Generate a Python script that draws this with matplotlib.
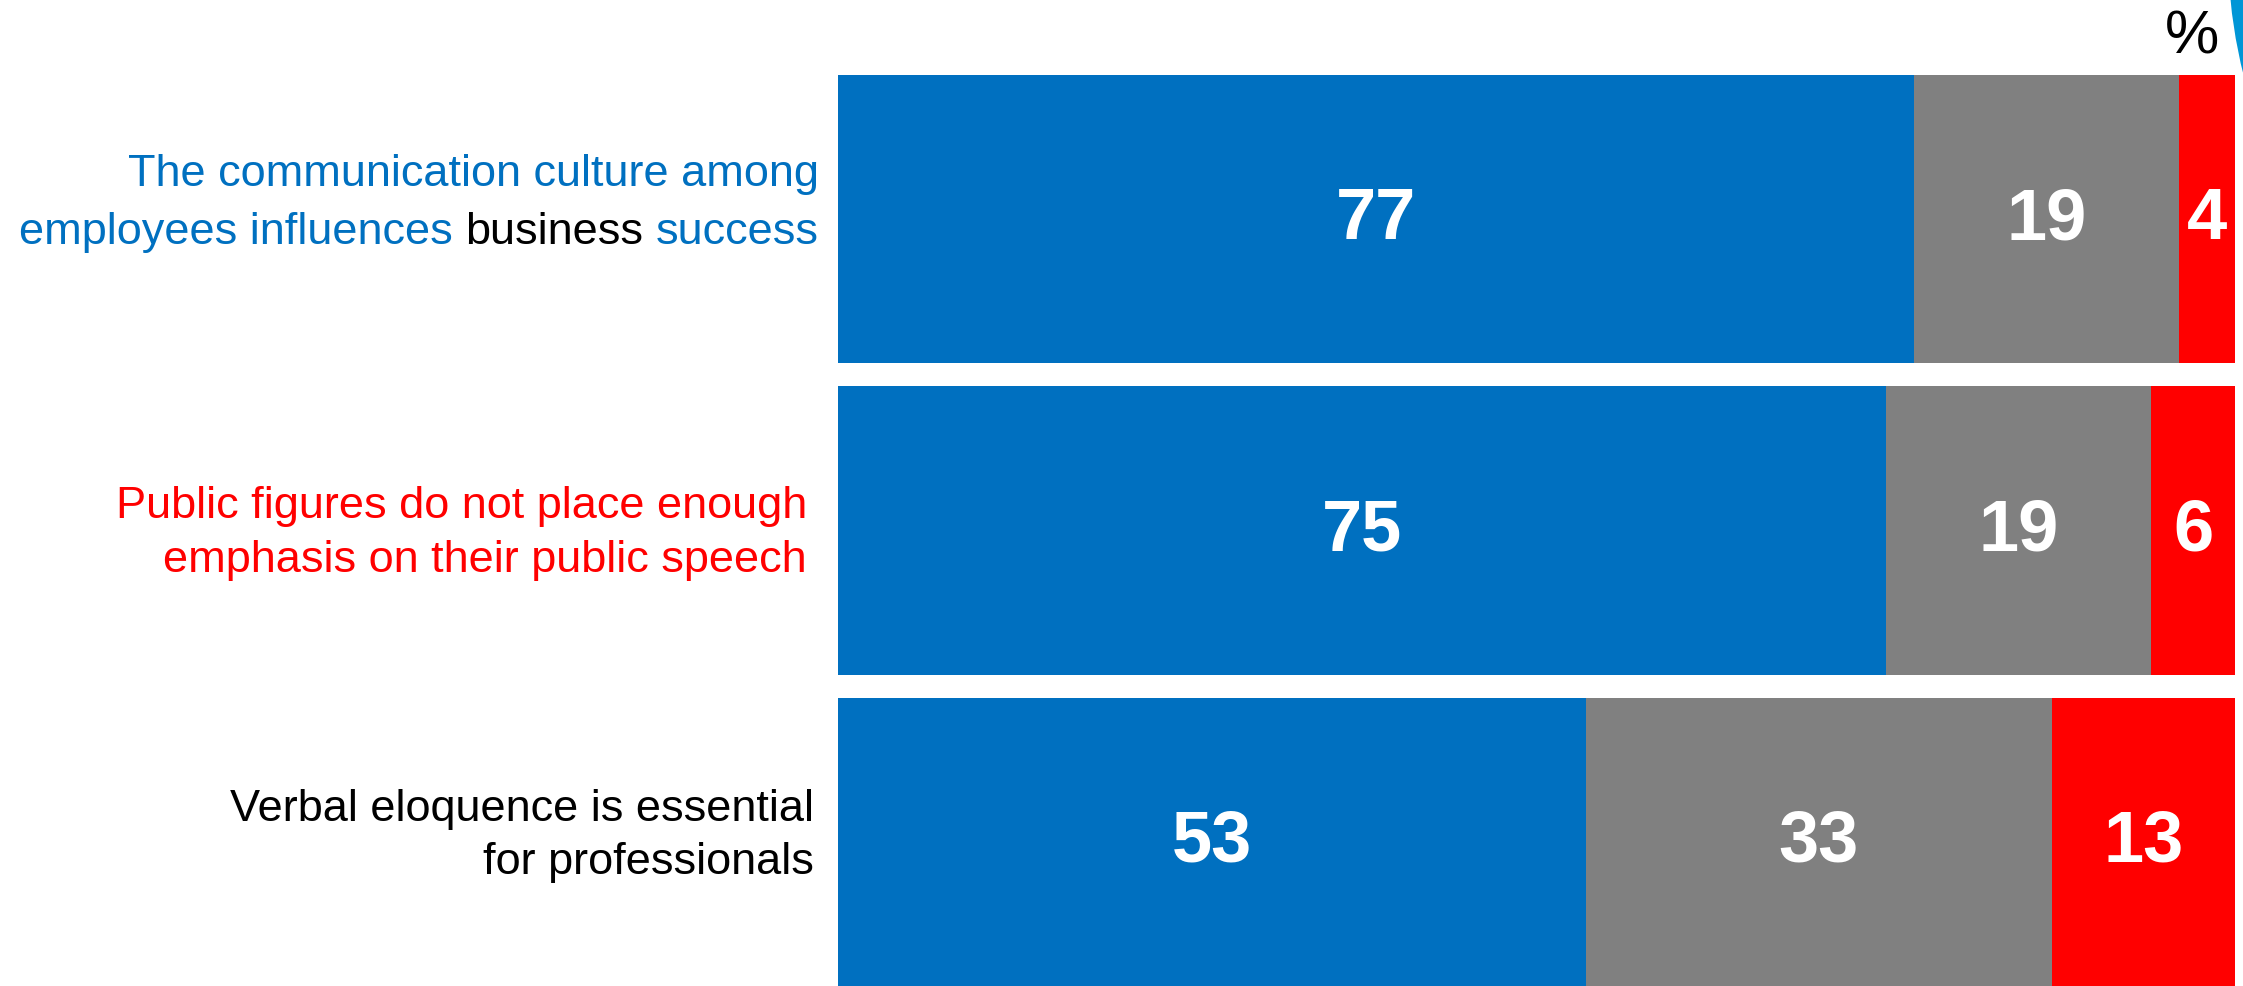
import numpy as np
import matplotlib
matplotlib.use('Agg')
import matplotlib.pyplot as plt
from matplotlib.patches import Circle
from matplotlib.transforms import ScaledTranslation

plt.rcParams['font.family'] = ['Liberation Sans', 'DejaVu Sans']

statements = [
    'The communication culture among\nemployees influences business success',
    'Public figures do not place enough\nemphasis on their public speech',
    'Verbal eloquence is essential\nfor professionals',
]
agree = [77, 75, 53]
neutral = [19, 19, 33]
disagree = [4, 6, 13]

BLUE = '#0070C0'
GREY = '#808080'
RED = '#FF0000'
LABEL_SIZE = 32.5
NUM_SIZE = 52

# per label: right edge (px from left), baseline offsets of both lines (px from bar centre, down +)
label_right = [819, 807, 814]
label_base = [(-34, 24), (-13, 41), (-22, 31)]
label_color = [BLUE, RED, 'black']


def main():
    fig = plt.figure(figsize=(22.43, 9.87), dpi=100)
    ax = fig.add_axes([838 / 2243, 0.0, (2235 - 838) / 2243, 1 - 76 / 987])

    vals = np.array([agree, neutral, disagree], dtype=float)
    shares = vals / vals.sum(axis=0) * 100
    y = np.arange(len(statements))
    h = 0.926
    left = np.zeros(len(statements))
    for row, raw, col in zip(shares, vals, [BLUE, GREY, RED]):
        bars = ax.barh(y, row, left=left, height=h, color=col, edgecolor='none')
        for b, v in zip(bars, raw):
            ax.text(b.get_x() + b.get_width() / 2, b.get_y() + b.get_height() / 2,
                    '{:.0f}'.format(v), ha='center', va='center', color='white',
                    fontsize=NUM_SIZE, fontweight='bold')
        left += row

    ax.set_xlim(0, 100)
    ax.set_ylim(len(statements) - 1 + h / 2, -h / 2)
    ax.axis('off')

    renderer = fig.canvas.get_renderer()

    def width(s):
        t = fig.text(0, 0, s, fontsize=LABEL_SIZE)
        w = t.get_window_extent(renderer).width
        t.remove()
        return w

    def put(i, s, line, color, shift=0.0):
        # x in axes fraction of the label's right edge, y at bar centre, then pixel offsets
        xr = (label_right[i] - 838) / 1397
        tr = ax.get_yaxis_transform() + ScaledTranslation(
            -shift / 100, -label_base[i][line] / 100, fig.dpi_scale_trans)
        ax.text(xr, y[i], s, ha='right', va='baseline', color=color,
                fontsize=LABEL_SIZE, transform=tr, clip_on=False)

    for i, s in enumerate(statements):
        first, second = s.split('\n')
        put(i, first, 0, label_color[i])
        if i == 0:
            # "business" is black in the first label
            put(i, 'success', 1, BLUE)
            put(i, 'business', 1, 'black',
                width('business success') - width('business'))
            put(i, 'employees influences', 1, BLUE,
                width('influences business success') - width('influences'))
        else:
            put(i, second, 1, label_color[i])

    fig.text(2192 / 2243, 1 - 53 / 987, '%', ha='center', va='baseline', fontsize=44)

    # decorative ring edge in the top right corner
    fig.add_artist(Circle((27.48, 10.37), 5.2, transform=fig.dpi_scale_trans,
                          facecolor='#0096D6', edgecolor='none'))

    fig.savefig('out.png', dpi=100)


if __name__ == '__main__':
    main()
